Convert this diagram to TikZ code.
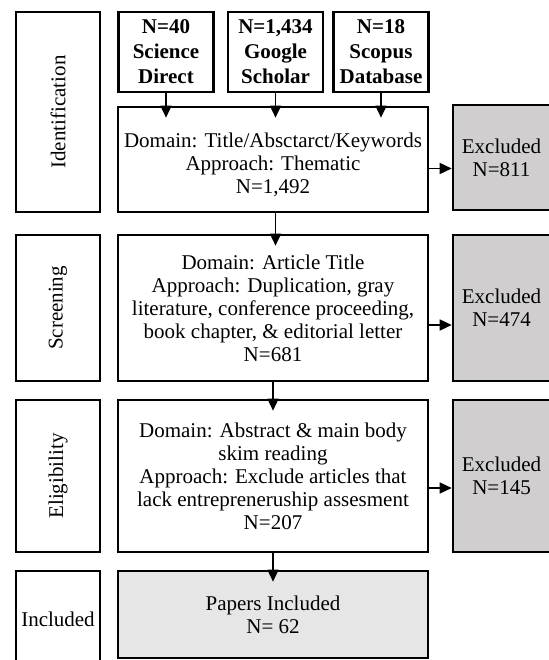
\documentclass[tikz,border=0pt]{standalone}
\usepackage{fontspec}
\setmainfont{Liberation Serif}
\usetikzlibrary{arrows.meta}
\definecolor{exclgray}{RGB}{208,206,206}
\definecolor{inclgray}{RGB}{231,230,230}

\begin{document}
\begin{tikzpicture}[x=1pt, y=-1pt,
        phase/.style = {draw, line width=1.6pt, minimum width=84pt, inner sep=0pt, font=\fontsize{21}{23}\selectfont},
        source/.style = {draw, line width=2.6pt, minimum width=95pt, minimum height=80pt, inner sep=0pt, align=center, font=\fontsize{21}{25}\selectfont\bfseries},
        stage/.style = {draw, line width=2.6pt, minimum width=310pt, inner sep=0pt, align=center, font=\fontsize{21}{23}\selectfont},
        excl/.style = {stage, fill=exclgray, minimum width=97pt},
        arr/.style = {-{Triangle[length=12pt, width=11pt]}, line width=1.5pt}]
        \useasboundingbox (0,0) rectangle (548,660);

        % Phasen
            \node[phase, minimum height=200pt] (pid) at (58, 112) {\rotatebox{90}{Identification}};
            \node[phase, minimum height=146pt] (pscr) at (58, 308) {\rotatebox{90}{Screening}};
            \node[phase, minimum height=152pt] (pelig) at (58, 476) {\rotatebox{90}{Eligibility}};
            \node[phase, minimum height=97pt] (pincl) at (58, 619.5) {Included};

        % Quellen
            \node[source] (sd) at (166, 52) {N=40\\ Science\\ Direct};
            \node[source] (gs) at (275.5, 52) {N=1,434\\ Google\\ Scholar};
            \node[source] (sc) at (381, 52) {N=18\\ Scopus\\ Database};

        % Stufen
            \node[stage, minimum height=105pt] (m1) at (273, 159.5) {\rule{0pt}{26pt}Domain: Title/Absctarct/Keywords\\ Approach: Thematic\\ N=1,492};
            \node[stage, minimum height=146pt] (m2) at (273, 308) {Domain: Article Title\\ Approach: Duplication, gray\\ literature, conference proceeding,\\ book chapter, \& editorial letter\\ N=681};
            \node[stage, minimum height=152pt] (m3) at (273, 476) {Domain: Abstract \& main body\\ skim reading\\ Approach: Exclude articles that\\ lack entrepreneruship assesment\\ N=207};
            \node[stage, minimum height=87pt, fill=inclgray] (m4) at (273, 614.5) {Papers Included\\ N= 62};

        % Ausgeschlossen
            \node[excl, minimum height=105pt] (x1) at (501.5, 157.5) {Excluded\\ N=811};
            \node[excl, minimum height=146pt] (x2) at (501.5, 308) {Excluded\\ N=474};
            \node[excl, minimum height=152pt] (x3) at (501.5, 476) {Excluded\\ N=145};

        % Pfeile
            \draw[arr] (sd.south) -- ([yshift=-12pt]m1.north -| sd.south);
            \draw[arr] (gs.south) -- ([yshift=-12pt]m1.north -| gs.south);
            \draw[arr] (sc.south) -- ([yshift=-12pt]m1.north -| sc.south);
            \draw[arr] (m1.south -| gs.south) -- ([yshift=-12pt]m2.north -| gs.south);
            \draw[arr] (m2.south) -- ([yshift=-12pt]m3.north);
            \draw[arr] (m3.south) -- ([yshift=-12pt]m4.north);
            \draw[arr] ([yshift=-9pt]m1.east) -- ([yshift=-9pt]m1.east -| x1.west);
            \draw[arr] ([yshift=-17pt]m2.east) -- ([yshift=-17pt]m2.east -| x2.west);
            \draw[arr] ([yshift=-12pt]m3.east) -- ([yshift=-12pt]m3.east -| x3.west);
\end{tikzpicture}
\end{document}
